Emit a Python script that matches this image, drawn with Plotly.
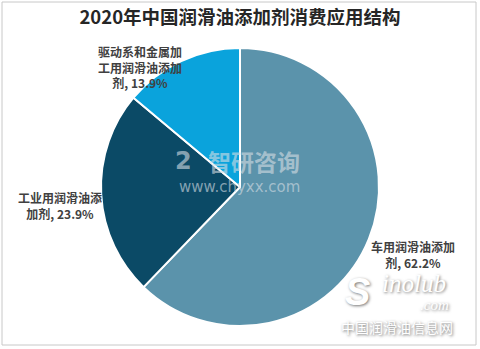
import plotly.graph_objects as go

labels = ["车用润滑油添加剂", "工业用润滑油添加剂", "驱动系和金属加工用润滑油添加剂"]
values = [62.2, 23.9, 13.9]
colors = ["#5b93ab", "#0b4a66", "#0aa3dc"]
# wrapped label texts (line breaks as in the reference)
wrapped = ["车用润滑油添加<br>剂, {v}%", "工业用润滑油添<br>加剂, {v}%", "驱动系和金属加<br>工用润滑油添加<br>剂, {v}%"]
label_pos = [(413, 254), (60, 205), (140, 67)]

W, H = 480, 349
FONT = "Noto Sans CJK SC"

fig = go.Figure(go.Pie(
    labels=labels, values=values, sort=False, direction="clockwise", rotation=0,
    marker=dict(colors=colors, line=dict(color="white", width=2)),
    textinfo="none", hoverinfo="label+percent", showlegend=False,
    domain=dict(x=[0, 1], y=[1 - 326 / H, 1 - 48 / H]),
))


def A(text, x, y, font):
    return dict(text=text, x=x / W, y=1 - y / H, xref="paper", yref="paper", showarrow=False,
                xanchor="center", yanchor="middle", align="center", font=font)


ann = []
for t, v, (x, y) in zip(wrapped, values, label_pos):
    ann.append(A(t.format(v=v), x, y, dict(family=FONT, size=12, color="#404040", weight="bold")))

# watermarks
wm = "rgba(215,222,228,0.6)"
ann.append(A("<b>2</b>", 183, 161, dict(family="DejaVu Sans", size=24, color=wm)))
ann.append(A("智研咨询", 254, 161, dict(family=FONT, size=23, color=wm, weight="bold")))
ann.append(A("www.chyxx.com", 239, 187, dict(family="DejaVu Sans", size=15, color=wm)))
sh = "1px 1px 3px #777"
ann.append(A("<i>S</i>", 357, 292, dict(family="Liberation Sans", size=38, color="white", weight="bold", shadow=sh)))
ann.append(A("<i>inolub</i>", 414, 283, dict(family="Liberation Serif", size=25, color="white", shadow=sh)))
ann.append(A("<i>.com</i>", 434, 305, dict(family="Liberation Serif", size=15, color="white", shadow=sh)))
ann.append(A("中国润滑油信息网", 397, 327, dict(family=FONT, size=14, color="white", shadow="1px 1px 3px #666")))

fig.update_layout(
    width=W, height=H, margin=dict(l=0, r=0, t=0, b=0),
    paper_bgcolor="white", plot_bgcolor="white",
    title=dict(text="2020年中国润滑油添加剂消费应用结构", x=0.5, xanchor="center",
               y=1 - 18 / H, yanchor="middle",
               font=dict(family=FONT, size=18.5, color="#262626", weight="bold")),
    annotations=ann,
    shapes=[dict(type="rect", xref="paper", yref="paper", x0=2 / W, x1=476 / W, y0=1 - 345 / H, y1=1 - 2 / H,
                 line=dict(color="#c8c8c8", width=1))],
)

fig.write_html("out.html")
